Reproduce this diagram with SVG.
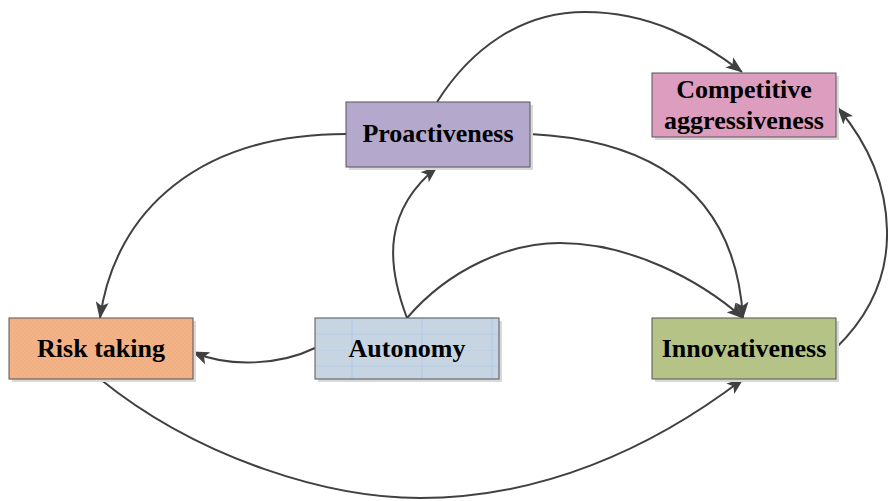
<svg xmlns="http://www.w3.org/2000/svg" width="888" height="501" viewBox="0 0 888 501">
  <style>
    .box { stroke: #555555; stroke-width: 1; }
    .shadow { fill: #d9d9d9; }
    .label { font-family: "Liberation Serif", "Times New Roman", serif; font-weight: bold; font-size: 26px; fill: #000000; text-anchor: middle; dominant-baseline: central; }
    .edge { fill: none; stroke: #404040; stroke-width: 2; marker-end: url(#arrow); }
  </style>
  <defs>
    <marker id="arrow" viewBox="0 0 17 13" refX="16" refY="6.5" markerWidth="17" markerHeight="13" markerUnits="userSpaceOnUse" orient="auto">
      <path d="M0,0 L17,6.5 L0,13 L4,6.5 Z" fill="#404040"/>
    </marker>
    <pattern id="dots" width="4" height="4" patternUnits="userSpaceOnUse">
      <rect width="4" height="4" fill="#F4B387"/>
      <circle cx="1" cy="1" r="0.6" fill="#E8A476"/>
      <circle cx="3" cy="3" r="0.6" fill="#E8A476"/>
    </pattern>
    <pattern id="grid" x="315" y="318" width="70" height="32" patternUnits="userSpaceOnUse">
      <rect width="70" height="32" fill="#C7D5E3"/>
      <path d="M0,0 H70 M0,16 H70" stroke="#B3CCE6" stroke-width="0.8"/>
      <path d="M37,0 V32" stroke="#A9C6E6" stroke-width="0.8"/>
    </pattern>
  </defs>

  <g id="connectors">
    <!-- Proactiveness -> Competitive aggressiveness -->
    <path class="edge" d="M437,102 C470,50 520,12 585,12 C650,12 700,40 742,72"/>
    <!-- Proactiveness -> Risk taking -->
    <path class="edge" d="M346,134 C200,134 115,210 100,318"/>
    <!-- Proactiveness -> Innovativeness -->
    <path class="edge" d="M530,134 C650,140 735,190 743,318"/>
    <!-- Autonomy -> Proactiveness -->
    <path class="edge" d="M407,318 C385,260 385,210 437,167"/>
    <!-- Autonomy -> Innovativeness -->
    <path class="edge" d="M407,318 C450,268 510,243 560,243 C630,243 700,280 743,318"/>
    <!-- Autonomy -> Risk taking -->
    <path class="edge" d="M315,348 C280,365 230,368 193,352"/>
    <!-- Risk taking -> Innovativeness -->
    <path class="edge" d="M100,379 C200,460 330,498 420,498 C540,498 650,450 743,379"/>
    <!-- Innovativeness -> Competitive aggressiveness -->
    <path class="edge" d="M836,348 C875,310 888,270 887,230 C886,180 865,140 838,108"/>
  </g>

  <g id="risk-taking">
    <rect class="shadow" x="12" y="321" width="184" height="61"/>
    <rect class="box" x="9" y="318" width="184" height="61" fill="url(#dots)"/>
    <text class="label" x="101" y="348">Risk taking</text>
  </g>

  <g id="autonomy">
    <rect class="shadow" x="318" y="321" width="184" height="61"/>
    <rect class="box" x="315" y="318" width="184" height="61" fill="url(#grid)"/>
    <text class="label" x="407" y="348">Autonomy</text>
  </g>

  <g id="innovativeness">
    <rect class="shadow" x="655" y="321" width="184" height="61"/>
    <rect class="box" x="652" y="318" width="184" height="61" fill="#B5C386"/>
    <text class="label" x="744" y="348">Innovativeness</text>
  </g>

  <g id="proactiveness">
    <rect class="shadow" x="349" y="105" width="184" height="65"/>
    <rect class="box" x="346" y="102" width="184" height="65" fill="#B4A8CC"/>
    <text class="label" x="438" y="133">Proactiveness</text>
  </g>

  <g id="competitive-aggressiveness">
    <rect class="shadow" x="655" y="76" width="184" height="64"/>
    <rect class="box" x="652" y="73" width="184" height="64" fill="#DD9DBF"/>
    <text class="label" x="744" y="89">Competitive</text>
    <text class="label" x="744" y="120">aggressiveness</text>
  </g>
</svg>
